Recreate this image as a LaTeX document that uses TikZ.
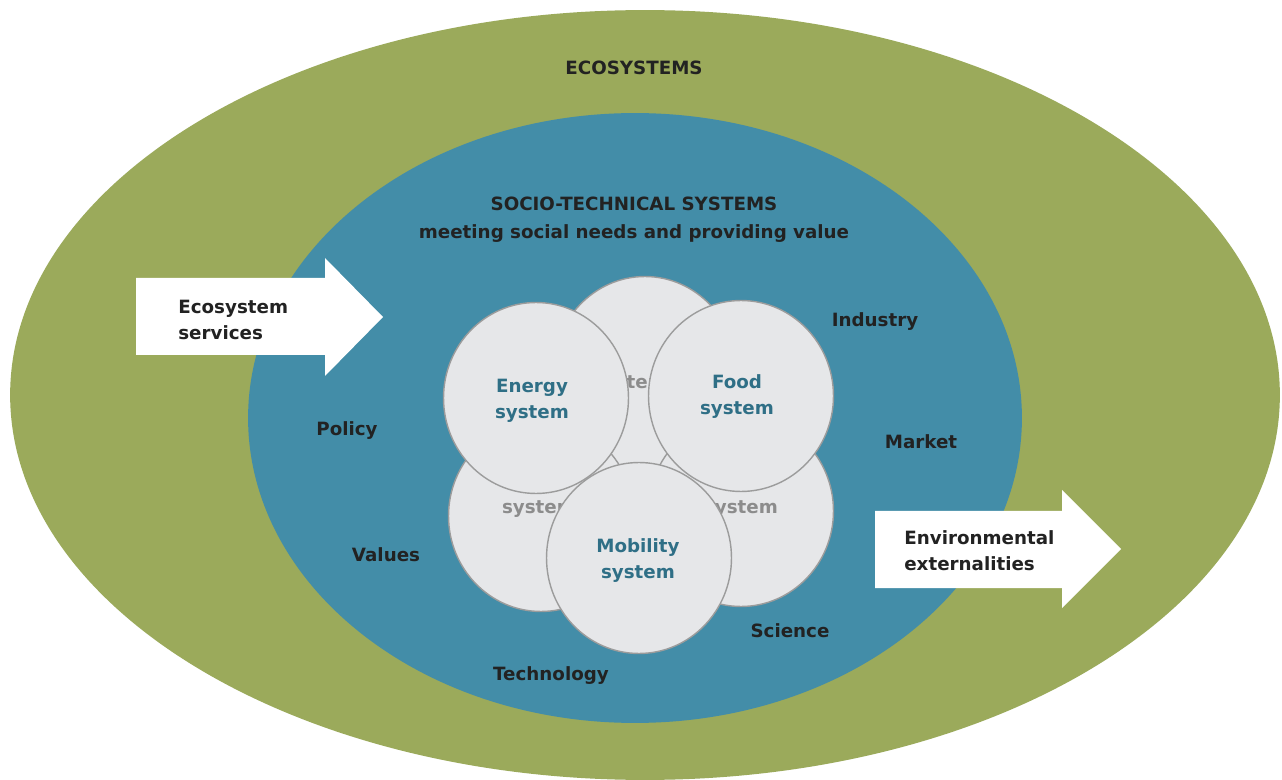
\documentclass[tikz,border=0pt]{standalone}
\usepackage{fontspec}
\setmainfont{DejaVu Sans}
\usetikzlibrary{shapes.geometric}

\definecolor{ecogreen}{HTML}{9BAA5B}
\definecolor{socioblue}{HTML}{438DA8}
\definecolor{sysfill}{HTML}{E6E7E9}
\definecolor{sysline}{HTML}{9C9C9C}
\definecolor{systext}{HTML}{2F6F86}
\definecolor{darktext}{HTML}{222222}
\definecolor{hidtext}{HTML}{8C8C8C}

\tikzset{
	txt/.style = {font = \bfseries\fontsize{10.4}{14.8}\selectfont, inner sep = 0pt},
	driver/.style = {txt, text = darktext},
	sysbox/.style = {ellipse, fill = sysfill, draw = sysline, line width = 0.8pt,
		minimum width = 3.7cm, minimum height = 3.82cm, inner sep = 0pt},
	systxt/.style = {txt, align = center, text = systext},
	hidden/.style = {txt, text = hidtext},
	flow/.style = {fill = white}
}

\begin{document}
\begin{tikzpicture}[x = 0.02cm, y = -0.02cm]

	% Frame
	
	\useasboundingbox [fill = white] (0, 0) rectangle (1282, 780);
	
	% Ecosystems and socio-technical systems
	
	\fill [ecogreen] (645, 395) ellipse [x radius = 12.7cm, y radius = 7.7cm];
	\fill [socioblue] (635, 418) ellipse [x radius = 7.74cm, y radius = 6.1cm];
	
	\node [driver] (eco) at (634, 68) {ECOSYSTEMS};
	\node [driver] (socio) at (634, 204) {SOCIO-TECHNICAL SYSTEMS};
	\node [driver] (needs) at (634, 234) {meeting social needs and providing value};
	
	% Flows in and out
	
	\fill [flow] (136, 278) -- (325, 278) -- (325, 258) -- (383, 317) -- (325, 376) -- (325, 355) -- (136, 355) -- cycle;
	\node [driver, anchor = west, align = left] (services) at (178, 320) {Ecosystem\\services};
	
	\fill [flow] (875, 511) -- (1062, 511) -- (1062, 490) -- (1121, 549) -- (1062, 608) -- (1062, 588) -- (875, 588) -- cycle;
	\node [driver, anchor = west, align = left] (externalities) at (904, 551) {Environmental\\externalities};
	
	% Drivers
	
	\node [driver] (industry) at (875, 322) {Industry};
	\node [driver] (market) at (921, 442) {Market};
	\node [driver] (science) at (790, 631) {Science};
	\node [driver] (technology) at (551, 676) {Technology};
	\node [driver] (values) at (386, 555) {Values};
	\node [driver] (policy) at (347, 431) {Policy};
	
	% Systems at the back
	
	\node [sysbox, minimum height = 3.9cm] (topsys) at (645, 374) {};
	\node [hidden] (toptxt) at (630, 384) {system};
	\node [sysbox] (leftsys) at (541, 516) {};
	\node [hidden] (lefttxt) at (539, 509) {system};
	\node [sysbox] (rightsys) at (741, 511) {};
	\node [hidden] (righttxt) at (741, 509) {system};
	
	% Systems in front
	
	\node [sysbox] (energy) at (536, 398) {};
	\node [systxt] (energytxt) at (532, 401) {Energy\\system};
	\node [sysbox] (food) at (741, 396) {};
	\node [systxt] (foodtxt) at (737, 397) {Food\\system};
	\node [sysbox] (mobility) at (639, 558) {};
	\node [systxt] (mobilitytxt) at (638, 561) {Mobility\\system};

\end{tikzpicture}
\end{document}
